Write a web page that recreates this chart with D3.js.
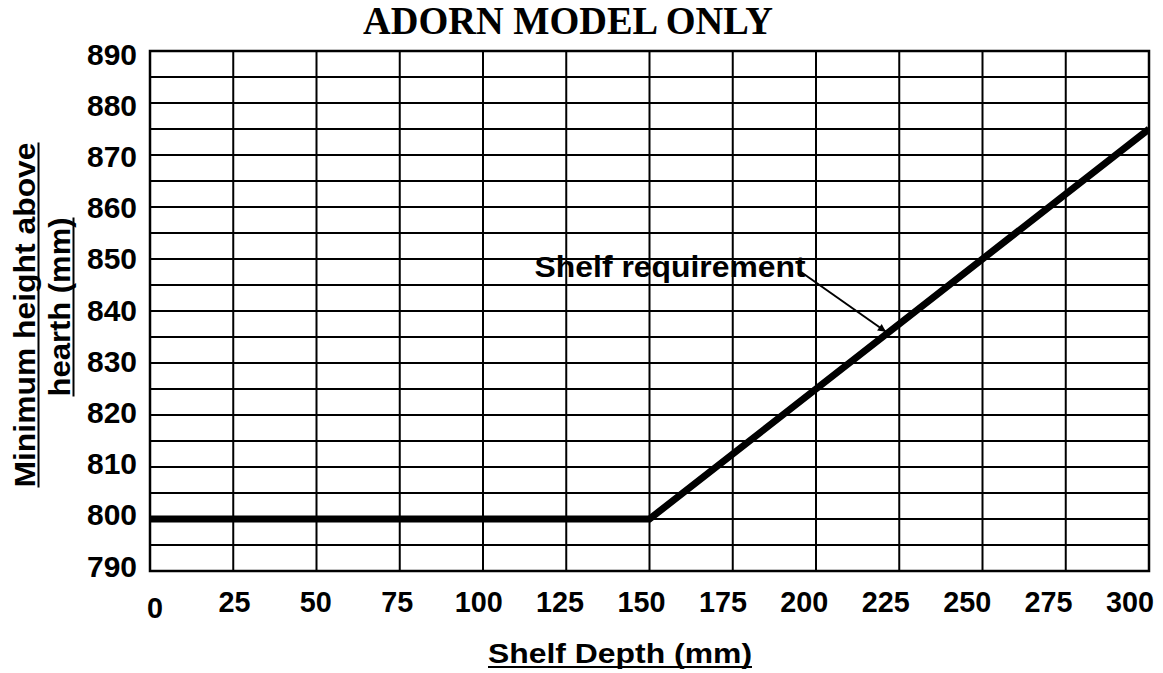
<!DOCTYPE html>
<html>
<head>
<meta charset="utf-8">
<script src="https://cdn.jsdelivr.net/npm/d3@7"></script>
<style>
  html, body { margin: 0; padding: 0; background: #fff; }
  svg { display: block; }
</style>
</head>
<body>
<svg id="chart" width="1163" height="673"></svg>
<script>
// ---- data ----
const titleText = "ADORN MODEL ONLY";
const xTitleText = "Shelf Depth (mm)";
const yTitleLines = ["Minimum height above", "hearth (mm)"];
const xTickValues = [0, 25, 50, 75, 100, 125, 150, 175, 200, 225, 250, 275, 300];
const yTickValues = [790, 800, 810, 820, 830, 840, 850, 860, 870, 880, 890];
const yGridValues = [790, 795, 800, 805, 810, 815, 820, 825, 830, 835, 840, 845, 850, 855, 860, 865, 870, 875, 880, 885, 890];
const depth = [0, 150, 300];
const minHeight = [800, 800, 875];
const annotationText = "Shelf requirement";
const annotationTextAt = [115.5, 846.5];   // data coords of label start
const annotationArrowFrom = [195.5, 847.5];
const annotationArrowTo = [221, 836];

(function () {
// ---- layout ----
const svg = d3.select("#chart");
const W = 1163, H = 673;
const pL = 150, pR = 1149, pT = 51, pB = 571;
const x = d3.scaleLinear().domain([0, 300]).range([pL, pR]);
const y = d3.scaleLinear().domain([790, 890]).range([pB, pT]);
// tick labels in the original are slightly compressed relative to the gridlines
const xLab = d3.scaleLinear().domain([0, 300]).range([153, 1130]);
const yLab = d3.scaleLinear().domain([790, 890]).range([566, 54]);

svg.append("rect").attr("width", W).attr("height", H).attr("fill", "#fff");

const sans = "'Liberation Sans', Arial, Helvetica, sans-serif";

// title
svg.append("text")
  .attr("x", 568).attr("y", 34)
  .attr("text-anchor", "middle")
  .attr("font-family", "'Liberation Serif', 'Times New Roman', serif")
  .attr("font-weight", "bold")
  .attr("font-size", 39)
  .attr("textLength", 410).attr("lengthAdjust", "spacingAndGlyphs")
  .text(titleText);

// grid
const g = svg.append("g");
g.selectAll("line.h").data(yGridValues).join("line")
  .attr("x1", pL).attr("x2", pR)
  .attr("y1", d => y(d)).attr("y2", d => y(d))
  .attr("stroke", "#000").attr("stroke-width", 2);
g.selectAll("line.v").data(xTickValues).join("line")
  .attr("y1", pT).attr("y2", pB)
  .attr("x1", d => x(d)).attr("x2", d => x(d))
  .attr("stroke", "#000").attr("stroke-width", 2);
g.append("rect")
  .attr("x", pL).attr("y", pT).attr("width", pR - pL).attr("height", pB - pT)
  .attr("fill", "none").attr("stroke", "#000").attr("stroke-width", 2.5);

// y tick labels
svg.append("g").selectAll("text").data(yTickValues).join("text")
  .attr("x", 137).attr("y", d => yLab(d) + 10.5)
  .attr("text-anchor", "end")
  .attr("font-family", sans).attr("font-weight", "bold").attr("font-size", 29)
  .attr("textLength", 50).attr("lengthAdjust", "spacingAndGlyphs")
  .text(d => d);

// x tick labels
svg.append("g").selectAll("text").data(xTickValues).join("text")
  .attr("x", d => xLab(d) + (d === 0 ? 2 : 0))
  .attr("y", d => d === 0 ? 618 : 612)
  .attr("text-anchor", "middle")
  .attr("font-family", sans).attr("font-weight", "bold").attr("font-size", 30)
  .attr("textLength", d => String(d).length * 16).attr("lengthAdjust", "spacingAndGlyphs")
  .text(d => d);

// data line
const pts = depth.map((d, i) => [d, minHeight[i]]);
const defs = svg.append("defs");
defs.append("clipPath").attr("id", "clip").append("rect")
  .attr("x", pL - 1).attr("y", pT).attr("width", pR - pL + 1).attr("height", pB - pT);
svg.append("path")
  .datum(pts)
  .attr("clip-path", "url(#clip)")
  .attr("d", d3.line().x(d => x(d[0])).y(d => y(d[1])))
  .attr("fill", "none").attr("stroke", "#000").attr("stroke-width", 7)
  .attr("stroke-linejoin", "miter").attr("stroke-linecap", "butt");

// annotation
svg.append("text")
  .attr("x", x(annotationTextAt[0])).attr("y", y(annotationTextAt[1]))
  .attr("font-family", sans).attr("font-weight", "bold").attr("font-size", 29)
  .attr("textLength", 271).attr("lengthAdjust", "spacingAndGlyphs")
  .text(annotationText);
defs.append("marker").attr("id", "arrow")
  .attr("viewBox", "0 0 10 10").attr("refX", 10).attr("refY", 5)
  .attr("markerWidth", 13).attr("markerHeight", 8).attr("markerUnits", "userSpaceOnUse")
  .attr("orient", "auto")
  .append("path").attr("d", "M0,0 L10,5 L0,10 z").attr("fill", "#000");
svg.append("line")
  .attr("x1", x(annotationArrowFrom[0])).attr("y1", y(annotationArrowFrom[1]))
  .attr("x2", x(annotationArrowTo[0])).attr("y2", y(annotationArrowTo[1]))
  .attr("stroke", "#000").attr("stroke-width", 2)
  .attr("marker-end", "url(#arrow)");

// x axis title
const xtLen = 264, xtCx = 620, xtBase = 663;
svg.append("text")
  .attr("x", xtCx).attr("y", xtBase).attr("text-anchor", "middle")
  .attr("font-family", sans).attr("font-weight", "bold").attr("font-size", 28)
  .attr("textLength", xtLen).attr("lengthAdjust", "spacingAndGlyphs")
  .text(xTitleText);
svg.append("line")
  .attr("x1", xtCx - xtLen / 2).attr("x2", xtCx + xtLen / 2)
  .attr("y1", xtBase + 4).attr("y2", xtBase + 4)
  .attr("stroke", "#000").attr("stroke-width", 2);

// y axis title (two lines, rotated)
const yLines = [
  { text: yTitleLines[0], base: 35, cy: 315, len: 345 },
  { text: yTitleLines[1], base: 70, cy: 307, len: 179 }
];
yLines.forEach(l => {
  const gt = svg.append("g").attr("transform", `translate(${l.base},${l.cy}) rotate(-90)`);
  gt.append("text")
    .attr("x", 0).attr("y", 0).attr("text-anchor", "middle")
    .attr("font-family", sans).attr("font-weight", "bold").attr("font-size", 29)
    .attr("textLength", l.len).attr("lengthAdjust", "spacingAndGlyphs")
    .text(l.text);
  gt.append("line")
    .attr("x1", -l.len / 2).attr("x2", l.len / 2)
    .attr("y1", 3.5).attr("y2", 3.5)
    .attr("stroke", "#000").attr("stroke-width", 2);
});
})();
</script>
</body>
</html>
